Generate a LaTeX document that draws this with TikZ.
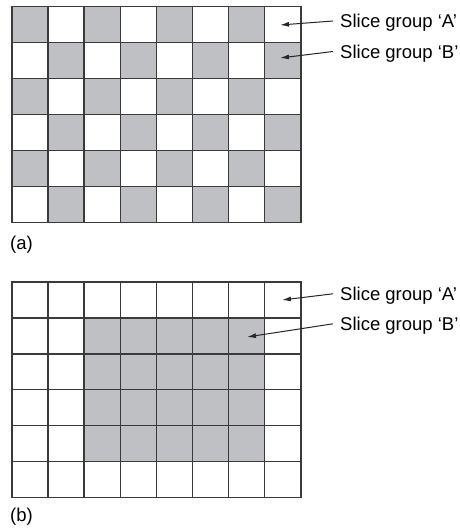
\documentclass[tikz,border=0pt]{standalone}
\usepackage{fontspec}
\setmainfont{Liberation Sans}
\usetikzlibrary{arrows.meta}
\definecolor{sliceGray}{RGB}{191,192,196}
\definecolor{gridGray}{RGB}{58,58,58}
\begin{document}
\begin{tikzpicture}[x=1pt,y=-1pt,
  cellfill/.style={fill=sliceGray},
  gridline/.style={draw=gridGray, line width=1.5pt, line cap=rect},
  lbl/.style={font=\fontsize{18.5}{20}\selectfont, anchor=base west, inner xsep=7pt, inner ysep=2pt, text depth=0pt},
  caption/.style={font=\fontsize{18.5}{20}\selectfont, anchor=base west, inner sep=0pt},
  pointer/.style={draw=black!85, line width=1pt, -{Latex[length=9pt,width=5pt]}}]
\useasboundingbox (0,0) rectangle (460,530);
% ---------- (a) checkerboard ----------
\foreach \r in {0,...,5}{
  \foreach \c in {0,...,7}{
    \pgfmathtruncatemacro\parity{mod(\r+\c,2)}
    \ifnum\parity=0
      \fill[cellfill] ({12+36.1*\c},{6.5+36*\r}) rectangle ++(36.1,36);
    \fi
  }
}
\foreach \i in {0,...,8}{\draw[gridline] ({12+36.1*\i},6.5) -- ++(0,216);}
\foreach \j in {0,...,6}{\draw[gridline] (12,{6.5+36*\j}) -- ++(288.8,0);}
% ---------- (b) box ----------
\fill[cellfill] ({12+36.1*2},{282+35.9*1}) rectangle ({12+36.1*7},{282+35.9*5});
\foreach \i in {0,...,8}{\draw[gridline] ({12+36.1*\i},282) -- ++(0,215.4);}
\foreach \j in {0,...,6}{\draw[gridline] (12,{282+35.9*\j}) -- ++(288.8,0);}
% ---------- labels ----------
\node[lbl] (aA) at (333,27.7) {Slice group `A'};
\node[lbl] (aB) at (333,58.2) {Slice group `B'};
\node[lbl] (bA) at (333,300.5) {Slice group `A'};
\node[lbl] (bB) at (333,330.5) {Slice group `B'};
\coordinate (aAtip) at (280,25);
\coordinate (aBtip) at (280,58);
\coordinate (bAtip) at (282,300);
\coordinate (bBtip) at (247,337);
\draw[pointer] (aA.west) -- (aAtip);
\draw[pointer] (aB.west) -- (aBtip);
\draw[pointer] (bA.west) -- (bAtip);
\draw[pointer] (bB.west) -- (bBtip);
\node[caption] (capa) at (10,249) {(a)};
\node[caption] (capb) at (10,521) {(b)};
\end{tikzpicture}
\end{document}
